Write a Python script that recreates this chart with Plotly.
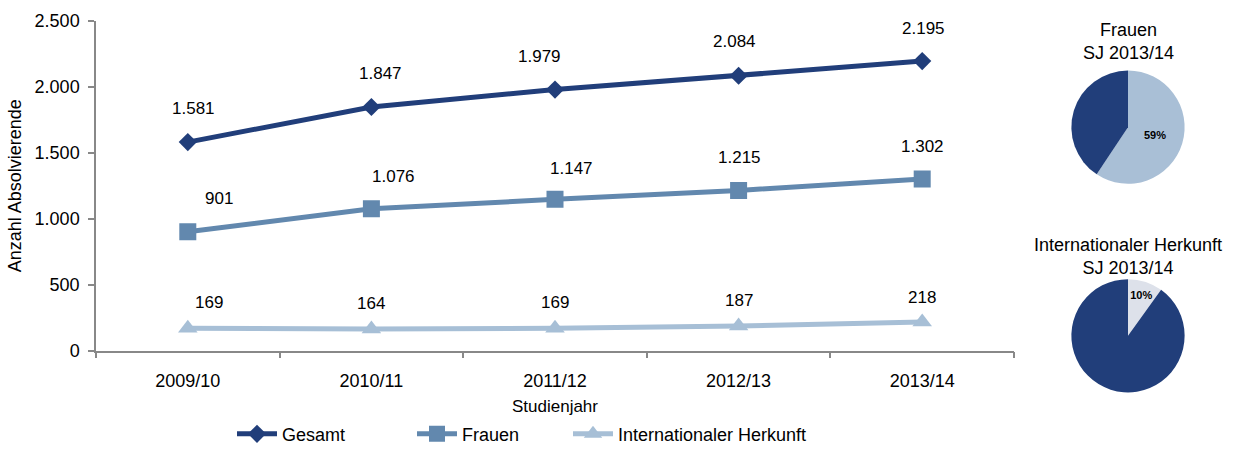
import plotly.graph_objects as go

# ---- data ----
years = ["2009/10", "2010/11", "2011/12", "2012/13", "2013/14"]
gesamt = [1581, 1847, 1979, 2084, 2195]
frauen = [901, 1076, 1147, 1215, 1302]
international = [169, 164, 169, 187, 218]
y_ticks = [0, 500, 1000, 1500, 2000, 2500]

# ---- styles ----
FONT = "Liberation Sans, Arial, sans-serif"
C_GES = "#213e7a"
C_FRA = "#6288ae"
C_INT = "#a7bfd6"
C_PIE_LIGHT = "#a9bfd6"
C_PIE_PALE = "#dde1ea"
AXIS_C = "#888888"

W, H = 1234, 453
def px_x(p):
    return p / W
def px_y(p):
    return 1 - p / H

fig = go.Figure()

series = [
    ("Gesamt", gesamt, C_GES, "diamond", 14, "legend"),
    ("Frauen", frauen, C_FRA, "square", 17, "legend2"),
    ("Internationaler Herkunft", international, C_INT, "triangle-up", 17, "legend3"),
]
for name, vals, col, sym, size, leg in series:
    fig.add_trace(go.Scatter(
        x=years, y=vals, name=name, mode="lines+markers",
        line=dict(color=col, width=5),
        marker=dict(symbol=sym, size=size, color=col),
        xaxis="x", yaxis="y", legend=leg,
    ))

# data label offsets (style only)
label_shift = {
    "Gesamt": [(6, 34), (9, 34), (-16, 33), (-4, 34), (1, 33)],
    "Frauen": [(31, 33), (22, 32), (16, 31), (1, 33), (0, 32)],
    "Internationaler Herkunft": [(21, 26), (0, 26), (0, 26), (0, 25), (0, 24)],
}
annotations = []
for name, vals, col, sym, size, leg in series:
    for i, (yr, v) in enumerate(zip(years, vals)):
        dx, dy = label_shift[name][i]
        annotations.append(dict(
            x=yr, y=v, xref="x", yref="y", text=f"{v:,}".replace(",", "."),
            showarrow=False, xshift=dx, yshift=dy,
            xanchor="center", yanchor="middle",
            font=dict(family=FONT, size=17, color="#000000"),
        ))

# ---- pies (latest year) ----
fr_last = frauen[-1]
ges_last = gesamt[-1]
int_last = international[-1]

pie_w = 114
fig.add_trace(go.Pie(
    values=[fr_last, ges_last - fr_last],
    labels=["Frauen", "Männer"],
    marker=dict(colors=[C_PIE_LIGHT, C_GES], line=dict(color="#ffffff", width=0)),
    direction="clockwise", sort=False, rotation=0,
    text=[f"{round(100 * fr_last / ges_last)}%", ""],
    textinfo="text", textposition="inside",
    insidetextfont=dict(family=FONT, size=11, color="#000000", weight="bold"),
    showlegend=False, hoverinfo="label+value+percent",
    domain=dict(x=[px_x(1128 - pie_w / 2), px_x(1128 + pie_w / 2)],
                y=[px_y(128 + pie_w / 2), px_y(128 - pie_w / 2)]),
))
fig.add_trace(go.Pie(
    values=[int_last, ges_last - int_last],
    labels=["Internationaler Herkunft", "Andere"],
    marker=dict(colors=[C_PIE_PALE, C_GES], line=dict(color="#ffffff", width=0)),
    direction="clockwise", sort=False, rotation=0,
    text=[f"{round(100 * int_last / ges_last)}%", ""],
    textinfo="text", textposition="inside",
    insidetextfont=dict(family=FONT, size=11, color="#000000", weight="bold"),
    showlegend=False, hoverinfo="label+value+percent",
    domain=dict(x=[px_x(1128 - pie_w / 2), px_x(1128 + pie_w / 2)],
                y=[px_y(338 + pie_w / 2), px_y(338 - pie_w / 2)]),
))

annotations += [
    dict(x=px_x(1128), y=px_y(42), xref="paper", yref="paper",
         xanchor="center", yanchor="middle",
         text="Frauen<br>SJ 2013/14", showarrow=False,
         font=dict(family=FONT, size=18, color="#000000")),
    dict(x=px_x(1128), y=px_y(258), xref="paper", yref="paper",
         xanchor="center", yanchor="middle",
         text="Internationaler Herkunft<br>SJ 2013/14", showarrow=False,
         font=dict(family=FONT, size=18, color="#000000")),
]

def legend_at(xpx):
    return dict(
        orientation="h", x=px_x(xpx), xanchor="left", y=px_y(437), yanchor="middle",
        font=dict(family=FONT, size=18), bgcolor="rgba(0,0,0,0)", itemwidth=40,
    )

fig.update_layout(
    width=W, height=H, autosize=False,
    margin=dict(l=0, r=0, t=0, b=0),
    paper_bgcolor="#ffffff", plot_bgcolor="#ffffff",
    separators=",.",
    font=dict(family=FONT, size=17, color="#000000"),
    xaxis=dict(
        domain=[px_x(96), px_x(1014)], range=[-0.5, len(years) - 0.5],
        showgrid=False, zeroline=False, automargin=False,
        showline=True, linecolor=AXIS_C, linewidth=1.5,
        ticks="outside", tickson="boundaries", ticklen=6, tickcolor=AXIS_C, tickwidth=1.5,
        tickfont=dict(family=FONT, size=18), ticklabelstandoff=13,
        title=dict(text="Studienjahr", font=dict(family=FONT, size=17), standoff=10),
    ),
    yaxis=dict(
        domain=[px_y(353), px_y(21)],
        range=[0, 2500], tickvals=y_ticks, tickformat=",d",
        showgrid=False, zeroline=False, automargin=False,
        showline=True, linecolor=AXIS_C, linewidth=1.5,
        ticks="outside", ticklen=6, tickcolor=AXIS_C, tickwidth=1.5,
        tickfont=dict(family=FONT, size=18), ticklabelstandoff=5,
        title=dict(text="Anzahl Absolvierende", font=dict(family=FONT, size=18), standoff=8),
    ),
    legend=legend_at(232),
    legend2=legend_at(412),
    legend3=legend_at(568),
    annotations=annotations,
)

fig.write_html(
    "out.html",
    config={"displayModeBar": False},
    post_script="document.body.style.margin='0px';document.body.style.overflow='hidden';",
)
